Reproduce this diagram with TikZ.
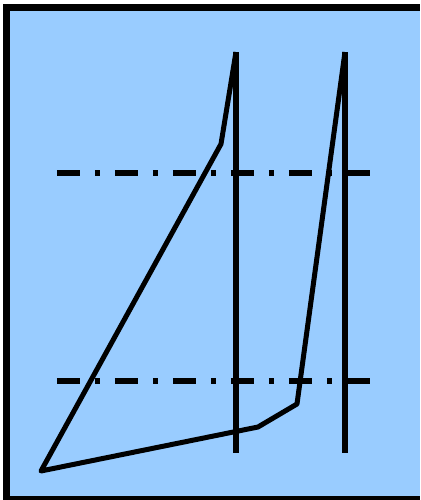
\documentclass[tikz,border=0pt]{standalone}
\usetikzlibrary{calc}
\definecolor{fondo}{HTML}{99CCFF}
\definecolor{tinta}{HTML}{000000}
\tikzset{
  marco/.style={draw=tinta, line width=3.5pt, fill=fondo},
  eje/.style={draw=tinta, line width=3pt},
  curva/.style={draw=tinta, line width=2.5pt, line join=round},
  guia/.style={draw=tinta, line width=3pt, dash pattern=on 11.5pt off 7.5pt on 2.5pt off 7.5pt}
}
\begin{document}
\begin{tikzpicture}[x=0.5pt, y=-0.5pt]
  \useasboundingbox (0,0) rectangle (420,500);
  \clip (0,0) rectangle (420,500);
  % fondo y marco
  \path[marco] (7,7.5) rectangle (424.5,499.5);
  % puntos del trazo
  \coordinate (izqarriba) at (236,52);
  \coordinate (izqabajo) at (236,453);
  \coordinate (derarriba) at (345,52);
  \coordinate (derabajo) at (345,453);
  \coordinate (codo) at (221,144);
  \coordinate (vertice) at (41,471);
  \coordinate (base) at (258,427);
  \coordinate (quiebre) at (297,404);
  % lineas guia
  \draw[guia] (57,173) -- (373,173);
  \draw[guia] (57,381) -- (373,381);
  % verticales
  \draw[eje] (izqarriba) -- (izqabajo);
  \draw[eje] (derarriba) -- (derabajo);
  % trazo
  \draw[curva] (izqarriba) -- (codo) -- (vertice) -- (base) -- (quiebre) -- (derarriba);
\end{tikzpicture}
\end{document}
